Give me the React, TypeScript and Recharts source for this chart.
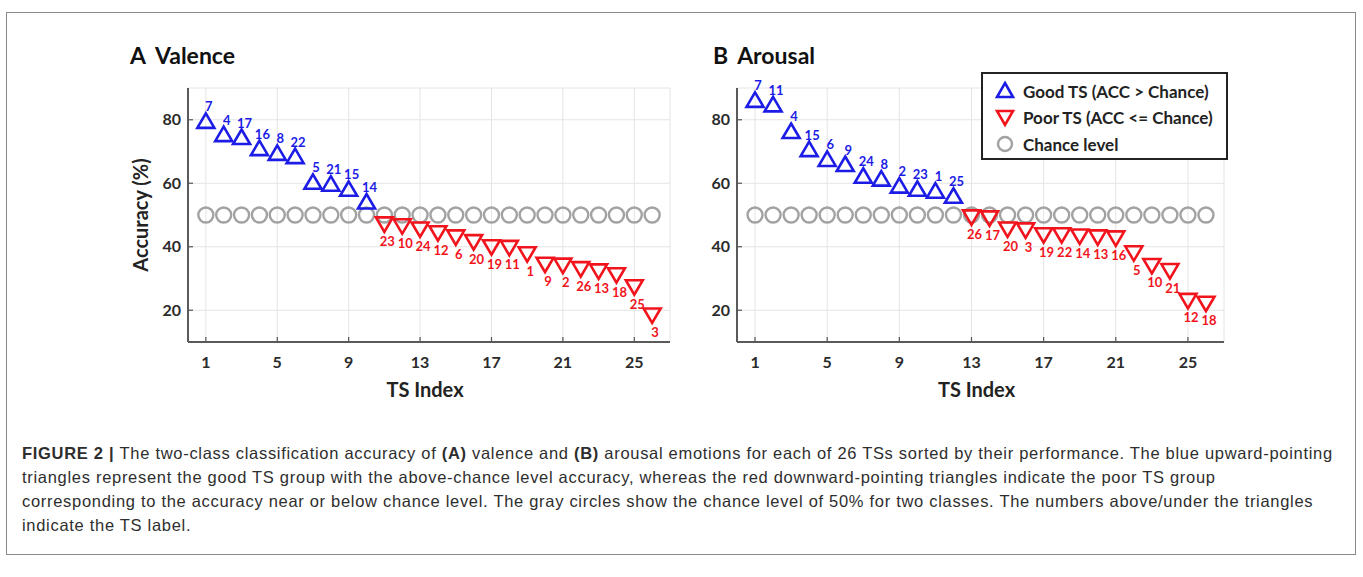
import React from 'react';
import { ScatterChart, Scatter, XAxis, YAxis, CartesianGrid, Legend, Label } from 'recharts';

// x axis ticks (TS index) and y axis ticks (accuracy %)
const tsIndexTicks = [1, 5, 9, 13, 17, 21, 25];
const accuracyTicks = [20, 40, 60, 80];

// (A) Valence
const valenceGoodTs = [7, 4, 17, 16, 8, 22, 5, 21, 15, 14];
const valenceGoodAcc = [79.5, 75.3, 74.4, 70.9, 69.4, 68.4, 60.3, 59.7, 58.1, 54.1];
const valencePoorTs = [23, 10, 24, 12, 6, 20, 19, 11, 1, 9, 2, 26, 13, 18, 25, 3];
const valencePoorAcc = [47.2, 46.6, 45.6, 44.4, 43.1, 41.6, 40.0, 39.8, 37.8, 34.5, 34.2, 33.1, 32.4, 31.2, 27.4, 18.5];

// (B) Arousal
const arousalGoodTs = [7, 11, 4, 15, 6, 9, 24, 8, 2, 23, 1, 25];
const arousalGoodAcc = [86.1, 84.7, 76.3, 70.6, 67.5, 65.9, 62.2, 61.3, 59.1, 58.1, 57.5, 55.9];
const arousalPoorTs = [26, 17, 20, 3, 19, 22, 14, 13, 16, 5, 10, 21, 12, 18];
const arousalPoorAcc = [49.4, 49.1, 45.6, 45.3, 43.8, 43.8, 43.4, 43.1, 42.8, 38.1, 34.1, 32.5, 23.1, 22.2];

// chance level for two classes
const chanceAcc = [50, 50, 50, 50, 50, 50, 50, 50, 50, 50, 50, 50, 50, 50, 50, 50, 50, 50, 50, 50, 50, 50, 50, 50, 50, 50];

const GOOD_NAME = 'Good TS (ACC > Chance)';
const POOR_NAME = 'Poor TS (ACC <= Chance)';
const CHANCE_NAME = 'Chance level';

const BLUE = '#1c1ce6';
const RED = '#f2141c';
const GRAY = '#a2a2a2';
const FONT = "Lato, 'Open Sans', sans-serif";

const toPoints = (acc: number[], ts: number[] | null, start: number) =>
  acc.map((a, i) => ({ x: start + i, acc: a, ts: ts ? ts[i] : null }));

const UpTriangle = (props: any) => {
  const { cx, cy, payload } = props;
  return (
    <g>
      <path
        d={`M${cx},${cy - 8} L${cx + 8.5},${cy + 6.5} L${cx - 8.5},${cy + 6.5} Z`}
        fill="none"
        stroke={BLUE}
        strokeWidth={2.6}
      />
      <text x={cx + 3} y={cy - 10} textAnchor="middle" fontSize={13} fontWeight={700} fill={BLUE} fontFamily={FONT}>
        {payload.ts}
      </text>
    </g>
  );
};

const DownTriangle = (props: any) => {
  const { cx, cy, payload } = props;
  return (
    <g>
      <path
        d={`M${cx - 8.5},${cy - 6.5} L${cx + 8.5},${cy - 6.5} L${cx},${cy + 8} Z`}
        fill="none"
        stroke={RED}
        strokeWidth={2.6}
      />
      <text x={cx + 3} y={cy + 22} textAnchor="middle" fontSize={13} fontWeight={700} fill={RED} fontFamily={FONT}>
        {payload.ts}
      </text>
    </g>
  );
};

const ChanceCircle = (props: any) => {
  const { cx, cy } = props;
  return <circle cx={cx} cy={cy} r={7.5} fill="none" stroke={GRAY} strokeWidth={2.4} />;
};

// ticks point inward like the original figure
const XTick = (props: any) => {
  const { x, y, payload } = props;
  const axisY = y - 15;
  return (
    <g>
      <line x1={x} x2={x} y1={axisY} y2={axisY - 5} stroke="#555" strokeWidth={1.2} />
      <text x={x} y={y + 11} textAnchor="middle" fontSize={16} fontWeight={700} fill="#2b2b2b" fontFamily={FONT}>
        {payload.value}
      </text>
    </g>
  );
};

const YTick = (props: any) => {
  const { x, y, payload } = props;
  const axisX = x + 7;
  return (
    <g>
      <line x1={axisX} x2={axisX + 5} y1={y} y2={y} stroke="#555" strokeWidth={1.2} />
      <text x={x} y={y + 5.5} textAnchor="end" fontSize={16} fontWeight={700} fill="#2b2b2b" fontFamily={FONT}>
        {payload.value}
      </text>
    </g>
  );
};

const AccuracyLabel = (props: any) => {
  const vb = props.viewBox || { x: 100, y: 88, width: 88, height: 254 };
  const x = vb.x + 40;
  const y = vb.y + vb.height / 2;
  return (
    <text
      x={x}
      y={y}
      transform={`rotate(-90 ${x} ${y})`}
      textAnchor="middle"
      dominantBaseline="central"
      fontSize={20}
      fontWeight={700}
      fill="#222"
      fontFamily={FONT}
    >
      Accuracy (%)
    </text>
  );
};

const legendOrder = [GOOD_NAME, POOR_NAME, CHANCE_NAME];

const LegendBox = (props: any) => {
  const payload: any[] = props.payload || [];
  const items = legendOrder.map((name) => payload.find((p) => p.value === name)).filter(Boolean);
  return (
    <div
      style={{
        border: '2px solid #222',
        background: '#fff',
        width: 247,
        height: 88,
        boxSizing: 'border-box',
        padding: '4px 0 0 10px',
        fontFamily: FONT,
      }}
    >
      {items.map((entry: any) => (
        <div key={entry.value} style={{ display: 'flex', alignItems: 'center', height: 26.5 }}>
          <svg width={24} height={22} style={{ marginRight: 6 }}>
            {entry.value === GOOD_NAME && (
              <path d="M12,3 L20,17 L4,17 Z" fill="none" stroke={BLUE} strokeWidth={2.6} />
            )}
            {entry.value === POOR_NAME && (
              <path d="M4,4 L20,4 L12,18 Z" fill="none" stroke={RED} strokeWidth={2.6} />
            )}
            {entry.value === CHANCE_NAME && <circle cx={12} cy={11} r={7} fill="none" stroke={GRAY} strokeWidth={2.4} />}
          </svg>
          <span style={{ fontSize: 17, fontWeight: 700, color: '#222' }}>{entry.value}</span>
        </div>
      ))}
    </div>
  );
};

interface PanelProps {
  left: number;
  rightMargin: number;
  goodTs: number[];
  goodAcc: number[];
  poorTs: number[];
  poorAcc: number[];
  showYLabel: boolean;
  showLegend: boolean;
}

const Panel: React.FC<PanelProps> = ({ left, rightMargin, goodTs, goodAcc, poorTs, poorAcc, showYLabel, showLegend }) => {
  const good = toPoints(goodAcc, goodTs, 1);
  const poor = toPoints(poorAcc, poorTs, goodAcc.length + 1);
  const chance = toPoints(chanceAcc, null, 1);
  return (
    <div style={{ position: 'absolute', left, top: 30, width: 600, height: 380 }}>
      <ScatterChart width={600} height={380} margin={{ top: 58, right: rightMargin, bottom: 8, left: 0 }}>
        <CartesianGrid stroke="#e4e4e4" strokeWidth={1} />
        <XAxis
          type="number"
          dataKey="x"
          domain={[0, 27]}
          ticks={tsIndexTicks}
          interval={0}
          height={60}
          tickSize={0}
          tickMargin={15}
          tick={<XTick />}
          axisLine={{ stroke: '#5a5a5a', strokeWidth: 2 }}
        >
          <Label
            value="TS Index"
            position="insideBottom"
            offset={5}
            dx={-4}
            fontSize={20}
            fontWeight={700}
            fill="#222"
            fontFamily={FONT}
          />
        </XAxis>
        <YAxis
          type="number"
          dataKey="acc"
          domain={[10, 90]}
          ticks={accuracyTicks}
          interval={0}
          width={88}
          tickSize={0}
          tickMargin={7}
          tick={<YTick />}
          axisLine={{ stroke: '#5a5a5a', strokeWidth: 2 }}
        >
          {showYLabel && <Label content={<AccuracyLabel />} />}
        </YAxis>
        {showLegend && (
          <Legend
            layout="vertical"
            align="center"
            verticalAlign="middle"
            content={<LegendBox />}
            wrapperStyle={{ left: 332, top: 42, width: 247, height: 88 }}
          />
        )}
        <Scatter name={CHANCE_NAME} data={chance} fill={GRAY} shape={<ChanceCircle />} isAnimationActive={false} />
        <Scatter name={GOOD_NAME} data={good} fill={BLUE} shape={<UpTriangle />} isAnimationActive={false} />
        <Scatter name={POOR_NAME} data={poor} fill={RED} shape={<DownTriangle />} isAnimationActive={false} />
      </ScatterChart>
    </div>
  );
};

const titleStyle = (left: number): React.CSSProperties => ({
  position: 'absolute',
  left,
  top: 40,
  height: 30,
  lineHeight: '30px',
  fontSize: 23,
  fontWeight: 700,
  color: '#111',
  fontFamily: FONT,
  whiteSpace: 'nowrap',
});

const captionLines = [
  [
    ['FIGURE 2 | ', true],
    ['The two-class classification accuracy of ', false],
    ['(A)', true],
    [' valence and ', false],
    ['(B)', true],
    [' arousal emotions for each of 26 TSs sorted by their performance. The blue upward-pointing', false],
  ],
  [['triangles represent the good TS group with the above-chance level accuracy, whereas the red downward-pointing triangles indicate the poor TS group', false]],
  [['corresponding to the accuracy near or below chance level. The gray circles show the chance level of 50% for two classes. The numbers above/under the triangles', false]],
  [['indicate the TS label.', false]],
] as [string, boolean][][];

export default function App() {
  return (
    <div style={{ position: 'absolute', left: 0, top: 0, width: 1363, height: 577, background: '#fff', overflow: 'hidden' }}>
      <div
        style={{
          position: 'absolute',
          left: 6,
          top: 12,
          width: 1350,
          height: 543,
          border: '1px solid #8a8a8a',
          boxSizing: 'border-box',
        }}
      />
      <div style={titleStyle(130)}>
        A<span style={{ marginLeft: 9 }}>Valence</span>
      </div>
      <div style={titleStyle(713)}>
        B<span style={{ marginLeft: 9 }}>Arousal</span>
      </div>
      <Panel
        left={100}
        rightMargin={30}
        goodTs={valenceGoodTs}
        goodAcc={valenceGoodAcc}
        poorTs={valencePoorTs}
        poorAcc={valencePoorAcc}
        showYLabel
        showLegend={false}
      />
      <Panel
        left={649}
        rightMargin={25}
        goodTs={arousalGoodTs}
        goodAcc={arousalGoodAcc}
        poorTs={arousalPoorTs}
        poorAcc={arousalPoorAcc}
        showYLabel={false}
        showLegend
      />
      <div
        style={{
          position: 'absolute',
          left: 22,
          top: 441,
          fontFamily: "'Liberation Sans', Arial, sans-serif",
          fontSize: 16.5,
          letterSpacing: 0.7,
          lineHeight: '24px',
          color: '#2e2e2e',
          whiteSpace: 'pre',
        }}
      >
        {captionLines.map((line, i) => (
          <div key={i}>
            {line.map(([t, b], j) => (
              <span key={j} style={{ fontWeight: b ? 700 : 400 }}>
                {t}
              </span>
            ))}
          </div>
        ))}
      </div>
    </div>
  );
}
